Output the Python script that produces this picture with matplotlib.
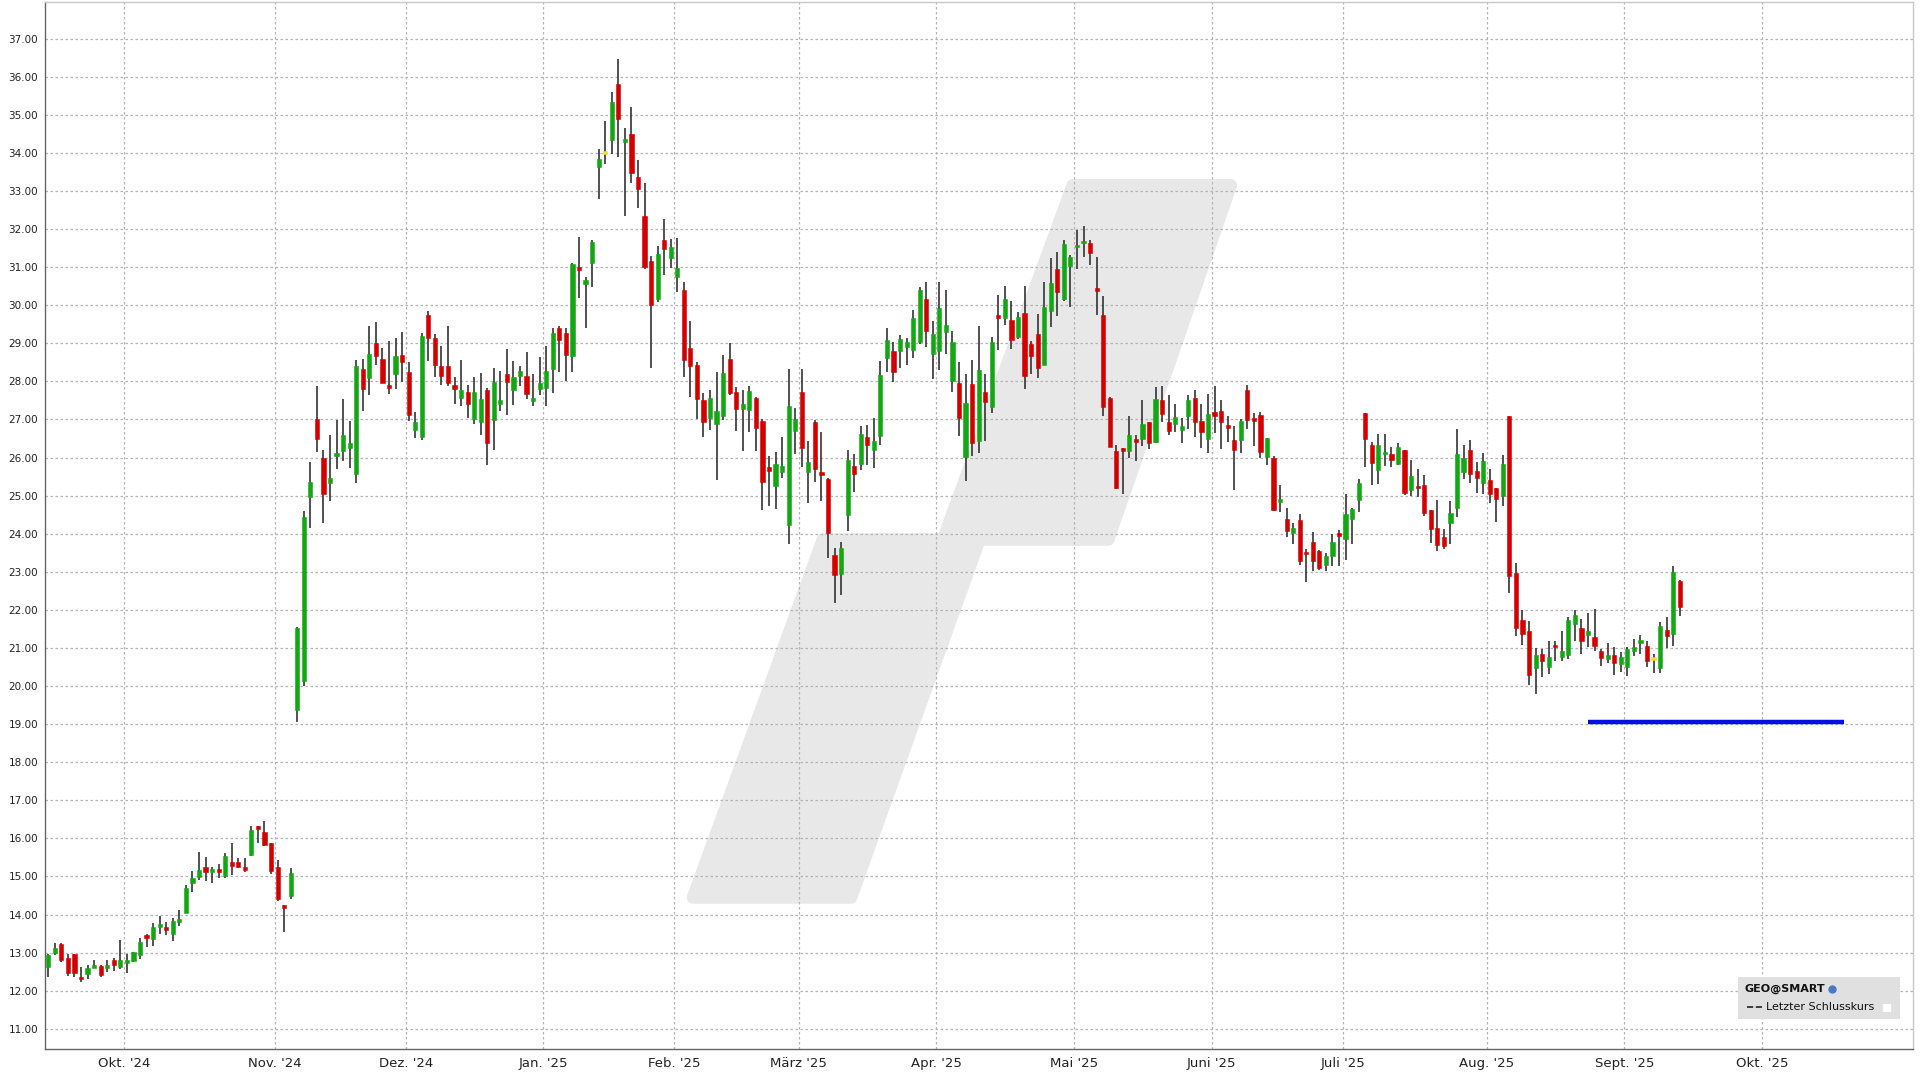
import numpy as np
import pandas as pd
import matplotlib
matplotlib.use('Agg')
import matplotlib.pyplot as plt
from matplotlib.patches import Polygon, Rectangle

# ---------------- data ----------------
open_ = [12.62, 12.98, 13.23, 12.87, 12.97, 12.37, 12.44, 12.60, 12.66, 12.59,
         12.80, 12.61, 12.72, 12.77, 12.93, 13.46, 13.35, 13.67, 13.68, 13.50,
         13.81, 14.05, 14.84, 14.99, 15.25, 15.13, 15.19, 15.02, 15.39, 15.37,
         15.24, 15.57, 16.30, 16.18, 15.88, 15.25, 14.25, 14.49, 19.38, 20.12,
         24.97, 27.00, 26.00, 25.33, 26.04, 26.18, 26.26, 25.56, 28.32, 28.08,
         29.00, 28.59, 27.87, 28.18, 28.70, 28.24, 26.73, 26.55, 29.74, 29.15,
         28.41, 28.39, 27.91, 27.56, 27.71, 27.00, 26.93, 27.78, 26.99, 27.41,
         28.19, 27.76, 28.15, 28.13, 27.49, 27.80, 27.83, 28.32, 29.39, 29.28,
         28.67, 30.99, 30.55, 31.10, 33.63, 33.98, 34.34, 35.81, 34.29, 34.50,
         33.37, 32.35, 31.17, 30.16, 31.70, 31.25, 30.73, 30.41, 28.88, 28.43,
         27.51, 27.05, 26.87, 27.10, 28.59, 27.71, 27.27, 27.24, 27.55, 26.95,
         25.76, 25.25, 25.62, 24.23, 26.69, 27.72, 25.62, 26.93, 25.58, 25.44,
         23.43, 22.95, 24.49, 25.78, 25.82, 26.53, 26.20, 26.56, 28.62, 28.79,
         28.79, 28.91, 28.82, 29.02, 30.16, 28.73, 28.79, 29.30, 28.02, 27.95,
         26.02, 27.94, 26.43, 27.73, 27.33, 29.75, 29.66, 29.60, 29.17, 29.79,
         28.99, 29.25, 28.44, 29.86, 30.96, 30.17, 31.03, 31.52, 31.62, 31.63,
         30.41, 29.75, 27.57, 26.17, 26.25, 26.16, 26.49, 26.49, 26.93, 26.42,
         27.50, 26.93, 26.89, 26.71, 27.10, 27.56, 26.97, 26.49, 27.19, 27.22,
         26.82, 26.45, 26.47, 27.76, 27.00, 27.11, 26.02, 25.99, 24.82, 24.38,
         24.01, 24.36, 23.50, 23.77, 23.54, 23.19, 23.42, 23.99, 23.85, 24.38,
         24.88, 27.16, 26.33, 25.67, 26.08, 26.09, 25.82, 26.20, 25.15, 25.25,
         25.29, 24.62, 24.14, 23.90, 24.29, 24.68, 25.62, 26.20, 25.64, 25.33,
         25.40, 25.19, 25.00, 27.08, 22.96, 21.74, 21.44, 20.48, 20.84, 20.50,
         21.07, 20.76, 20.81, 21.63, 21.52, 21.33, 21.28, 20.91, 20.70, 20.81,
         20.57, 20.50, 20.91, 21.13, 21.06, 20.69, 20.48, 21.48, 21.37, 22.75]

high = [12.96, 13.25, 13.26, 12.96, 12.97, 12.63, 12.67, 12.81, 12.67, 12.81,
        12.87, 13.32, 12.97, 13.01, 13.39, 13.50, 13.77, 13.96, 13.81, 13.92,
        14.12, 14.77, 15.14, 15.63, 15.52, 15.24, 15.34, 15.61, 15.88, 15.48,
        15.48, 16.33, 16.33, 16.46, 15.89, 15.43, 14.25, 15.23, 21.55, 24.59,
        25.88, 27.87, 26.19, 26.60, 26.99, 27.54, 26.97, 28.56, 28.59, 29.46,
        29.55, 28.87, 29.07, 29.15, 29.30, 28.50, 27.19, 29.27, 29.85, 29.24,
        28.92, 29.44, 28.11, 28.56, 27.91, 28.11, 28.21, 27.82, 28.34, 28.28,
        28.86, 28.54, 28.41, 28.78, 28.19, 28.63, 28.92, 29.40, 29.45, 29.39,
        31.12, 31.78, 30.73, 31.72, 34.09, 34.84, 35.60, 36.47, 34.66, 35.19,
        33.81, 33.22, 31.30, 31.56, 32.26, 31.73, 31.76, 30.60, 29.59, 28.52,
        27.69, 27.77, 28.25, 28.68, 29.00, 27.86, 27.77, 27.87, 27.60, 27.00,
        26.04, 26.15, 26.54, 28.33, 27.30, 28.33, 26.43, 26.98, 26.66, 25.46,
        23.62, 23.79, 26.21, 26.08, 26.84, 26.85, 27.03, 28.54, 29.39, 29.04,
        29.21, 29.13, 29.87, 30.48, 30.60, 29.58, 30.60, 30.39, 29.32, 28.51,
        28.20, 28.56, 29.44, 28.20, 29.17, 30.28, 30.50, 30.12, 29.82, 30.50,
        29.06, 29.77, 30.61, 31.24, 31.40, 31.71, 31.32, 31.97, 32.09, 31.72,
        31.26, 30.24, 27.59, 26.32, 26.25, 27.10, 26.58, 27.50, 26.93, 27.85,
        27.87, 27.63, 27.41, 27.03, 27.63, 27.76, 27.41, 27.67, 27.87, 27.50,
        27.08, 26.82, 27.02, 27.91, 27.17, 27.20, 26.52, 26.04, 25.28, 24.68,
        24.29, 24.53, 23.61, 24.05, 23.57, 23.48, 23.98, 24.10, 25.03, 24.68,
        25.43, 27.18, 26.41, 26.61, 26.63, 26.28, 26.37, 26.21, 25.93, 25.71,
        25.54, 24.62, 24.88, 24.12, 24.87, 26.74, 26.32, 26.46, 25.89, 26.12,
        25.70, 25.21, 26.06, 27.09, 23.22, 22.00, 21.72, 21.00, 20.96, 21.19,
        21.19, 21.44, 21.80, 22.00, 21.77, 21.92, 22.03, 20.96, 21.12, 21.02,
        20.90, 21.02, 21.24, 21.35, 21.19, 20.83, 21.67, 21.80, 23.16, 22.79]

low = [12.37, 12.93, 12.75, 12.39, 12.37, 12.24, 12.32, 12.59, 12.35, 12.50,
       12.53, 12.56, 12.46, 12.75, 12.82, 13.16, 13.18, 13.50, 13.46, 13.31,
       13.70, 14.05, 14.60, 14.90, 14.89, 14.82, 14.97, 14.97, 15.04, 15.22,
       15.13, 15.54, 15.89, 15.81, 15.06, 14.35, 13.53, 14.40, 19.05, 19.99,
       24.14, 26.14, 24.28, 24.87, 25.71, 25.90, 25.73, 25.33, 27.21, 27.63,
       28.43, 27.95, 27.66, 27.80, 27.99, 26.97, 26.52, 26.45, 28.54, 28.11,
       27.91, 27.89, 27.41, 27.36, 27.03, 26.88, 26.58, 25.81, 26.19, 27.21,
       27.12, 27.38, 27.89, 27.54, 27.36, 27.63, 27.36, 27.70, 28.24, 28.00,
       28.24, 30.20, 29.39, 30.47, 32.78, 33.70, 33.98, 33.88, 32.33, 33.22,
       32.55, 30.95, 28.34, 30.09, 30.79, 30.98, 30.34, 28.12, 27.58, 27.00,
       26.53, 26.73, 25.41, 26.99, 27.63, 26.70, 26.18, 26.68, 26.16, 24.62,
       24.73, 24.66, 25.45, 23.72, 26.10, 25.74, 24.80, 25.36, 24.86, 23.37,
       22.18, 22.40, 24.06, 25.10, 25.67, 25.80, 25.72, 26.33, 28.25, 27.99,
       28.36, 28.44, 28.62, 28.99, 28.91, 28.05, 28.30, 28.73, 27.73, 26.57,
       25.38, 26.05, 26.11, 26.43, 27.16, 28.82, 29.48, 28.86, 29.12, 27.79,
       28.18, 28.09, 28.44, 29.43, 29.72, 30.10, 29.95, 30.95, 31.26, 31.06,
       29.74, 27.10, 26.27, 25.18, 25.05, 25.99, 25.90, 26.29, 26.23, 26.39,
       26.93, 26.60, 26.67, 26.39, 26.76, 26.54, 26.25, 26.13, 26.64, 26.23,
       26.41, 25.16, 26.11, 26.74, 26.30, 26.00, 25.80, 24.60, 24.58, 23.92,
       23.74, 23.19, 22.72, 23.02, 23.05, 23.03, 23.15, 23.16, 23.31, 23.73,
       24.58, 25.76, 25.28, 25.30, 25.78, 25.76, 25.80, 25.01, 25.00, 24.97,
       24.46, 23.75, 23.54, 23.61, 23.72, 24.43, 25.43, 25.32, 25.07, 25.05,
       24.80, 24.31, 24.72, 22.43, 21.31, 21.09, 20.02, 19.78, 20.23, 20.32,
       20.65, 20.65, 20.70, 21.18, 20.85, 21.02, 20.91, 20.52, 20.61, 20.30,
       20.37, 20.26, 20.78, 20.85, 20.50, 20.35, 20.35, 21.00, 21.05, 21.85]

close = [12.93, 13.11, 12.81, 12.46, 12.46, 12.30, 12.59, 12.65, 12.40, 12.68,
         12.67, 12.80, 12.81, 13.01, 13.29, 13.38, 13.68, 13.73, 13.59, 13.83,
         13.89, 14.71, 14.96, 15.17, 15.13, 15.18, 15.13, 15.53, 15.28, 15.25,
         15.18, 16.23, 16.25, 15.82, 15.15, 14.42, 14.16, 15.09, 21.52, 24.44,
         25.35, 26.49, 25.04, 25.46, 26.09, 26.60, 26.37, 28.39, 27.80, 28.72,
         28.67, 27.95, 27.83, 28.67, 28.50, 27.12, 26.93, 29.18, 29.14, 28.43,
         28.15, 27.95, 27.80, 27.76, 27.41, 27.73, 27.54, 26.39, 27.99, 27.51,
         27.99, 28.11, 28.26, 27.67, 27.54, 27.96, 28.28, 29.28, 29.08, 28.69,
         31.08, 30.93, 30.66, 31.66, 33.85, 33.98, 35.34, 34.88, 34.33, 33.48,
         33.06, 31.00, 30.01, 31.35, 31.47, 31.52, 30.97, 28.57, 28.41, 27.54,
         26.93, 27.57, 27.22, 28.23, 27.70, 27.27, 27.40, 27.74, 26.77, 25.37,
         25.65, 25.83, 25.77, 27.34, 27.02, 26.24, 25.89, 25.69, 25.54, 24.03,
         22.92, 23.62, 25.93, 25.57, 26.63, 26.33, 26.43, 28.16, 29.08, 28.25,
         29.11, 29.02, 29.65, 30.39, 29.33, 29.23, 29.93, 29.49, 29.04, 27.03,
         27.42, 26.39, 28.30, 27.45, 29.02, 29.67, 30.15, 29.09, 29.70, 28.15,
         28.66, 28.35, 29.96, 30.58, 30.34, 31.61, 31.26, 31.55, 31.65, 31.36,
         30.37, 27.32, 26.28, 25.19, 26.16, 26.60, 26.41, 26.89, 26.39, 27.54,
         27.15, 26.69, 27.06, 26.83, 27.52, 26.93, 26.67, 27.15, 27.10, 26.93,
         26.78, 26.21, 26.95, 26.98, 26.96, 26.14, 26.51, 24.62, 24.90, 24.08,
         24.15, 23.28, 23.46, 23.28, 23.11, 23.42, 23.79, 23.95, 24.51, 24.65,
         25.32, 26.48, 25.85, 26.33, 26.12, 25.93, 26.28, 25.06, 25.52, 25.19,
         24.55, 24.12, 23.70, 23.68, 24.55, 26.08, 26.00, 25.56, 25.45, 25.91,
         25.04, 24.91, 25.83, 22.90, 21.52, 21.37, 20.29, 20.81, 20.65, 20.76,
         21.02, 20.93, 21.73, 21.86, 21.19, 21.44, 21.05, 20.74, 20.81, 20.61,
         20.76, 20.98, 21.03, 21.16, 20.67, 20.69, 21.57, 21.31, 22.99, 22.07]

first_day = '2024-09-13'
last_axis_day = '2025-10-31'
market_holidays = ['2024-11-28', '2024-12-25', '2025-01-01', '2025-01-09',
                   '2025-01-20', '2025-02-17', '2025-04-18', '2025-05-26',
                   '2025-06-19', '2025-07-04', '2025-09-01']
month_starts = ['2024-10-01', '2024-11-01', '2024-12-01', '2025-01-01',
                '2025-02-01', '2025-03-01', '2025-04-01', '2025-05-01',
                '2025-06-01', '2025-07-01', '2025-08-01', '2025-09-01',
                '2025-10-01']
month_labels = ["Okt. '24", "Nov. '24", "Dez. '24", "Jan. '25", "Feb. '25",
                "März '25", "Apr. '25", "Mai '25", "Juni '25", "Juli '25",
                "Aug. '25", "Sept. '25", "Okt. '25"]
y_ticks = list(range(11, 38))
line_level = 19.06
line_start = '2025-08-22'
line_end = '2025-10-17'
legend_title = 'GEO@SMART'
legend_entry = 'Letzter Schlusskurs'

# ---------------- figure ----------------
plt.rcParams['font.family'] = ['DejaVu Sans']
fig = plt.figure(figsize=(19.2, 10.8), dpi=100)
fig.patch.set_facecolor('white')
ax = fig.add_axes([45 / 1920, 1 - 1049 / 1080, 1868 / 1920, 1047 / 1080])

days = pd.bdate_range(first_day, last_axis_day, freq='C', holidays=market_holidays)
n = len(open_)
x = np.arange(n)
o = np.array(open_); h = np.array(high); l = np.array(low); c = np.array(close)

colors = np.where(c > o, '#13a813', np.where(c < o, '#d40000', '#f0e020'))
body_bottom = np.minimum(o, c)
body_h = np.maximum(np.abs(c - o), 0.07)

ax.vlines(x, l, h, color='#333333', linewidth=1.2, zorder=2)
ax.bar(x, body_h, bottom=body_bottom, width=0.64, color=colors,
       edgecolor=colors, linewidth=0.4, zorder=3)

# support line
xs = days.searchsorted(pd.Timestamp(line_start))
xe = days.searchsorted(pd.Timestamp(line_end))
ax.plot([xs, xe], [line_level, line_level], color='#0010e0', linewidth=3.2,
        solid_capstyle='butt', zorder=4)

# watermark logo (axes fraction)
wm = [(0.3469, 0.1447), (0.4164, 0.4866), (0.4807, 0.4866), (0.5502, 0.8250),
      (0.6348, 0.8250), (0.5692, 0.4866), (0.5003, 0.4866), (0.4315, 0.1447)]
ax.add_patch(Polygon(wm, closed=True, transform=ax.transAxes,
                     facecolor='#e8e8e8', edgecolor='#e8e8e8', linewidth=9,
                     joinstyle='round', zorder=0.1))

# axes styling
ax.set_xlim(-0.5, 284.6)
ax.set_ylim(10.47, 37.96)
tick_pos = [days.searchsorted(pd.Timestamp(m)) - 0.45 for m in month_starts]
ax.set_xticks(tick_pos, month_labels)
ax.set_yticks(y_ticks, [f'{v:.2f}' for v in y_ticks])
ax.tick_params(axis='both', length=0, colors='#222222')
ax.tick_params(axis='x', pad=6, labelsize=9.5)
ax.tick_params(axis='y', pad=5, labelsize=7.5)
ax.set_axisbelow(True)
ax.grid(True, color='#b4b4b4', linestyle=(0, (2, 2)), linewidth=0.9)
for side in ['left', 'bottom']:
    ax.spines[side].set_color('#666666')
    ax.spines[side].set_linewidth(1.0)
for side in ['top', 'right']:
    ax.spines[side].set_color('#c8c8c8')
    ax.spines[side].set_linewidth(1.0)

# legend box
ax.add_patch(Rectangle((0.9062, 0.029), 0.0866, 0.0398, transform=ax.transAxes,
                       facecolor='#e0e0e0', edgecolor='none', zorder=5))
ax.text(0.9100, 0.0575, legend_title, transform=ax.transAxes, fontsize=8,
        fontweight='bold', color='#111111', va='center', ha='left', zorder=6)
ax.plot([0.9567], [0.0575], marker='o', markersize=5, color='#4a78c8',
        transform=ax.transAxes, zorder=6)
ax.plot([0.9110, 0.9195], [0.0398, 0.0398], color='#222222', linestyle='--',
        linewidth=1.2, transform=ax.transAxes, zorder=6)
ax.text(0.9215, 0.0398, legend_entry, transform=ax.transAxes, fontsize=8,
        color='#111111', va='center', ha='left', zorder=6)
ax.add_patch(Rectangle((0.9835, 0.0355), 0.0045, 0.0085, transform=ax.transAxes,
                       facecolor='white', edgecolor='#dddddd', linewidth=0.5, zorder=6))

fig.savefig('out.png', dpi=100)
